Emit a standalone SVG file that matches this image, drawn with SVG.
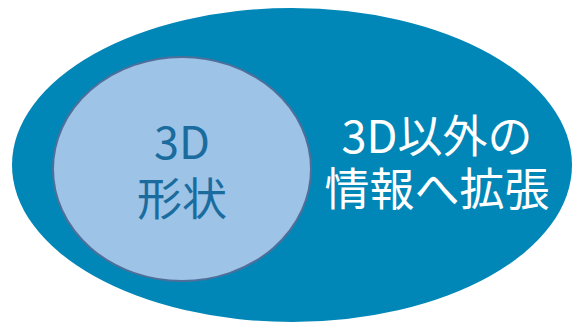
<svg xmlns="http://www.w3.org/2000/svg" width="572" height="322" viewBox="0 0 572 322">
<style>
.t{font-family:"Noto Sans CJK JP","Noto Sans",sans-serif;font-size:45px;text-anchor:middle}
.in{fill:#1A6C9E}
.out{fill:#FFFFFF}
</style>
<rect width="572" height="322" fill="#FFFFFF"/>
<g id="outer">
<ellipse cx="292" cy="165" rx="280" ry="157" fill="#0087B7"/>
<text class="t out" x="437" y="153">3D以外の</text>
<text class="t out" x="437" y="206">情報へ拡張</text>
</g>
<g id="inner">
<ellipse cx="182" cy="169" rx="129" ry="112" fill="#9DC3E6" stroke="#4F6F9A" stroke-width="2"/>
<text class="t in" x="182" y="159">3D</text>
<text class="t in" x="182" y="216">形状</text>
</g>
<g id="connectors"/>
</svg>
